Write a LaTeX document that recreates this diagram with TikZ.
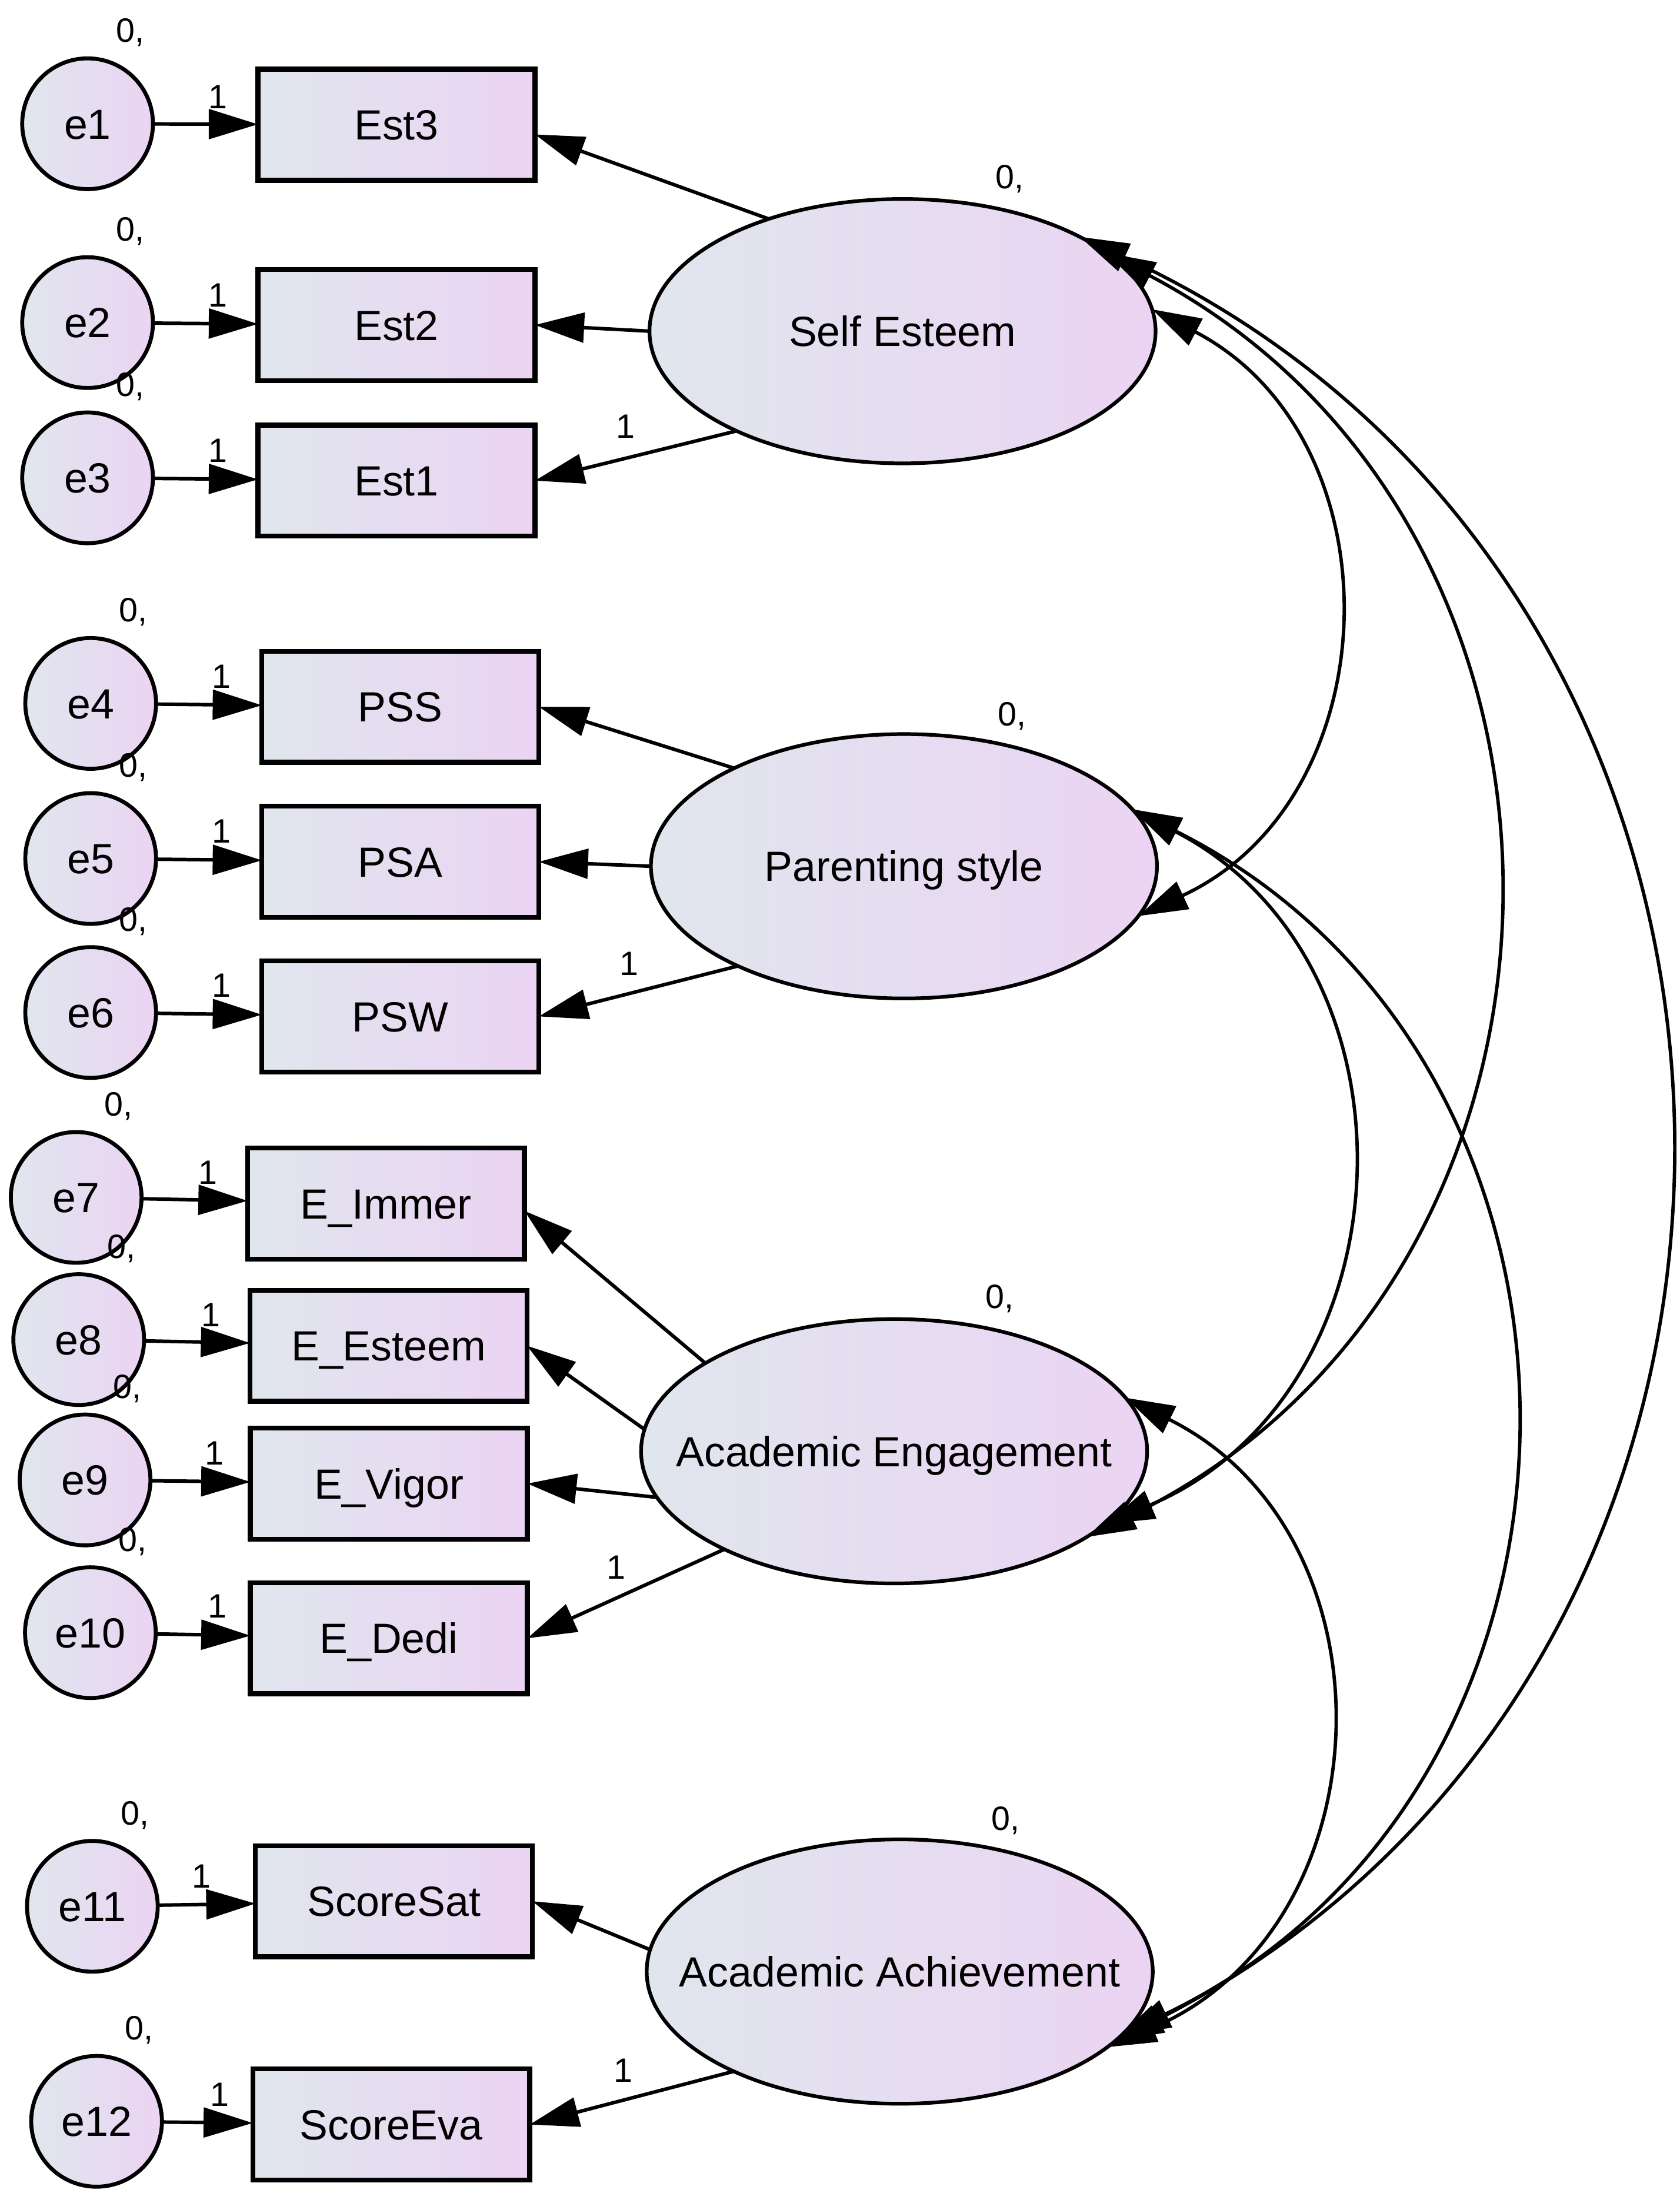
\documentclass[tikz,border=0pt]{standalone}
\usepackage{fontspec}
\setmainfont{Liberation Sans}
\usetikzlibrary{arrows.meta,shapes.geometric}
\definecolor{fillL}{RGB}{224,230,238}
\definecolor{fillR}{RGB}{235,212,243}
\tikzset{
  shapebase/.style={draw=black, inner sep=0pt, outer sep=0pt, left color=fillL, right color=fillR,
    font=\fontsize{30}{36}\selectfont, text height=21.5pt, text depth=0pt},
  obs/.style={shapebase, rectangle, line width=3.5pt, minimum width=197pt, minimum height=79pt},
  err/.style={shapebase, circle, line width=2.8pt, minimum size=93pt},
  lat/.style={shapebase, ellipse, line width=2.6pt, minimum width=360pt, minimum height=188pt},
  lab/.style={font=\fontsize{24}{28}\selectfont, inner sep=0pt, anchor=base west},
  reg/.style={line width=2.5pt, -{Triangle[length=35pt,width=21pt]}},
  cov/.style={line width=2.4pt, {Triangle[length=35pt,width=21pt]}-{Triangle[length=35pt,width=21pt]}},
}
\begin{document}
\begin{tikzpicture}[x=1pt,y=-1pt]
\path[fill=white,use as bounding box] (0,0) rectangle (1195,1566.6);

% latent variables
\node[lat] (SE) at (642,235.5) {\makebox[0pt]{Self Esteem}};
\node[lat] (PS) at (643,616) {\makebox[0pt]{Parenting style}};
\node[lat] (AE) at (636,1032) {\makebox[0pt]{Academic Engagement}};
\node[lat] (AA) at (640,1402) {\makebox[0pt]{Academic Achievement}};

% observed variables
\node[obs] (Est3) at (282,88.7) {Est3};
\node[obs] (Est2) at (282,231.1) {Est2};
\node[obs] (Est1) at (282,341.8) {Est1};
\node[obs] (PSS) at (284.8,502.6) {PSS};
\node[obs] (PSA) at (284.8,612.8) {PSA};
\node[obs] (PSW) at (284.8,722.8) {PSW};
\node[obs] (EI) at (274.6,855.9) {E\_Immer};
\node[obs] (EE) at (276.4,957) {E\_Esteem};
\node[obs] (EV) at (276.6,1055) {E\_Vigor};
\node[obs] (ED) at (276.6,1165) {E\_Dedi};
\node[obs] (SS) at (280.2,1352) {ScoreSat};
\node[obs] (SEv) at (278.3,1510.8) {ScoreEva};

% error terms with their "0," labels
\foreach \n/\x/\y in {e1/62.3/88, e2/62.3/229.4, e3/62.3/339.8, e4/64.5/500.2, e5/64.5/610.5,
  e6/64.5/720, e7/54.2/851.5, e8/56/952.6, e9/60.5/1052.4, e10/64.3/1161, e11/65.7/1355.6, e12/68.7/1508.5}{
  \node[err] (\n) at (\x,\y) {\n};
  \node[lab] (z\n) at (\x+20,\y-58) {0,};
}

% "1" labels on error paths
\foreach \n/\x/\y in {e1/148.3/77, e2/148.3/218.4, e3/148.3/328.8, e4/150.5/489.2, e5/150.5/599.5,
  e6/150.5/709, e7/141.2/842.2, e8/143/943.3, e9/145.7/1041.8, e10/147.6/1150.5, e11/136.3/1342.5, e12/149.4/1497.6}{
  \node[lab] (o\n) at (\x,\y) {1};
}

% error -> indicator
\foreach \a/\b in {e1/Est3, e2/Est2, e3/Est1, e4/PSS, e5/PSA, e6/PSW, e7/EI, e8/EE, e9/EV, e10/ED, e11/SS, e12/SEv}
  \draw[reg] (\a) -- (\b);

% latent -> indicator
\draw[reg] (SE.140) -- (Est3.-4);
\draw[reg] (SE.180) -- (Est2.east);
\draw[reg] (SE.211) -- (Est1.east);
\draw[reg] (PS.150) -- (PSS.east);
\draw[reg] (PS.180) -- (PSA.east);
\draw[reg] (PS.211) -- (PSW.east);
\draw[reg] (AE.155) -- (EI.-3);
\draw[reg] (AE.175) -- (EE.east);
\draw[reg] (AE.191) -- (EV.east);
\draw[reg] (AE.210) -- (ED.east);
\draw[reg] (AA.175) -- (SS.east);
\draw[reg] (AA.211) -- (SEv.east);

% latent labels
\node[lab] (zSE) at (708,134) {0,};
\node[lab] (zPS) at (709.8,516.3) {0,};
\node[lab] (zAE) at (701,930.5) {0,};
\node[lab] (zAA) at (705,1301.5) {0,};
\node[lab] (oSE) at (438,311.6) {1};
\node[lab] (oPS) at (440.5,693.5) {1};
\node[lab] (oAE) at (431.5,1122.7) {1};
\node[lab] (oAA) at (436.3,1480.4) {1};

% covariances
\draw[cov] (SE.5) .. controls (996,312) and (990,567.8) .. (PS.-12);
\draw[cov] (SE.21) .. controls (1159.7,375.7) and (1150.9,909.5) .. (AE.-24);
\draw[cov] (SE.28) .. controls (1310.3,417.8) and (1325.2,1180.4) .. (AA.-18);
\draw[cov] (PS.14) .. controls (1017.1,684.8) and (1005.7,990.6) .. (AE.-19);
\draw[cov] (PS.14) .. controls (1166.1,756.5) and (1162.4,1271.8) .. (AA.-16);
\draw[cov] (AE.13) .. controls (995.7,1090.9) and (988.4,1370.3) .. (AA.-20);
\end{tikzpicture}
\end{document}
